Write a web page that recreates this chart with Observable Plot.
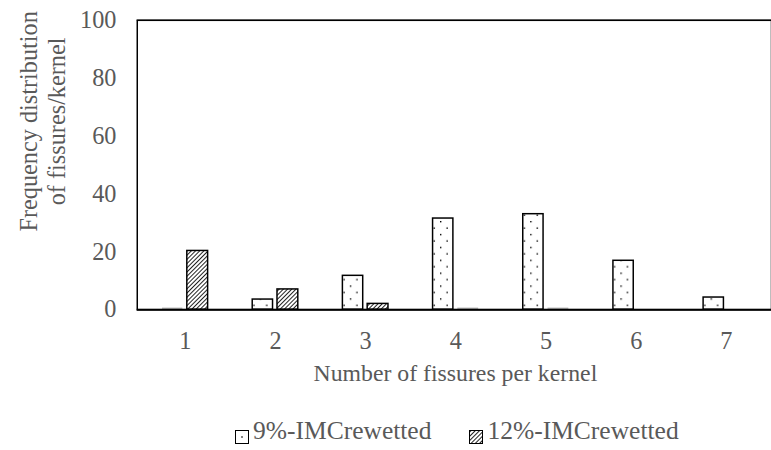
<!DOCTYPE html>
<html>
<head>
<meta charset="utf-8">
<script src="https://cdn.jsdelivr.net/npm/d3@7"></script>
<script src="https://cdn.jsdelivr.net/npm/@observablehq/plot@0.6"></script>
<style>
  html, body { margin: 0; padding: 0; background: #fff; overflow: hidden; }
  #wrap { position: relative; width: 771px; height: 450px; overflow: hidden; }
  #chart svg { display: block; }
  #legend {
    position: absolute; left: 235px; top: 418px;
    display: flex; align-items: flex-start;
    font-family: "Liberation Serif", "Times New Roman", serif;
    font-size: 25.5px; line-height: 26px; color: #595959; white-space: nowrap;
  }
  .sw { width: 12px; height: 12px; border: 1px solid #000; margin-top: 12px; margin-right: 4px; box-sizing: content-box; }
  .sw svg { display: block; }
</style>
</head>
<body>
<svg width="0" height="0" style="position:absolute">
  <defs>
    <pattern id="dots" patternUnits="userSpaceOnUse" width="13" height="13">
      <rect width="13" height="13" fill="#fff"/>
      <rect x="2" y="2" width="1.4" height="1.4" fill="#000"/>
      <rect x="8.5" y="8.5" width="1.4" height="1.4" fill="#000"/>
    </pattern>
    <pattern id="hatch" patternUnits="userSpaceOnUse" width="3" height="3" patternTransform="rotate(45)">
      <rect width="3" height="3" fill="#fff"/>
      <line x1="0.5" y1="0" x2="0.5" y2="3" stroke="#222" stroke-width="1"/>
    </pattern>
  </defs>
</svg>
<div id="wrap">
  <div id="chart"></div>
  <div id="legend">
    <div class="sw"><svg width="12" height="12"><rect width="12" height="12" fill="#fff"/><rect x="5.3" y="5.3" width="1.4" height="1.4" fill="#000"/></svg></div>
    <span id="lg1"></span>
    <div class="sw" style="margin-left:38px"><svg width="12" height="12"><rect width="12" height="12" fill="url(#hatch)"/></svg></div>
    <span id="lg2"></span>
  </div>
</div>
<script>
// ---- data ----
const categories = ["1", "2", "3", "4", "5", "6", "7"];
const seriesNames = ["9%-IMCrewetted", "12%-IMCrewetted"];
const nineValues = [0, 3.5, 11.7, 31.5, 33, 16.9, 4.2];
const twelveValues = [20.3, 7, 2, 0, 0, null, null];
const yTicks = [0, 20, 40, 60, 80, 100];
const xTitle = "Number of fissures per kernel";
const yTitle = "Frequency distribution\nof fissures/kernel";

document.getElementById("lg1").textContent = seriesNames[0];
document.getElementById("lg2").textContent = seriesNames[1];

const nineRows = categories.map((c, i) => ({cat: c, value: nineValues[i]}));
const twelveRows = categories.map((c, i) => ({cat: c, value: twelveValues[i]}));
const pos = rows => rows.filter(d => d.value != null && d.value > 0);
const zero = rows => rows.filter(d => d.value === 0);

const font = "'Liberation Serif', 'Times New Roman', serif";
const gray = "#595959";

const plot = Plot.plot({
  width: 778,
  height: 400,
  marginLeft: 140,
  marginRight: 0,
  marginTop: 20,
  marginBottom: 88,
  style: {fontFamily: font, fontSize: "24.5px", color: gray, background: "transparent", overflow: "visible"},
  x: {domain: categories, padding: 0, tickSize: 0, tickPadding: 22, label: null},
  y: {domain: [0, 100], ticks: yTicks, tickSize: 0, tickPadding: 23, label: null},
  marks: [
    Plot.barY(pos(nineRows), {x: "cat", y: "value", fill: "url(#dots)", stroke: "#000", strokeWidth: 1.5, insetLeft: 22.5, insetRight: 48}),
    Plot.barY(pos(twelveRows), {x: "cat", y: "value", fill: "url(#hatch)", stroke: "#000", strokeWidth: 1.5, insetLeft: 47.5, insetRight: 22.5}),
    Plot.tickY(zero(nineRows), {x: "cat", y: "value", stroke: "#9a9a9a", strokeWidth: 1, insetLeft: 22.5, insetRight: 48, dy: -1.5}),
    Plot.tickY(zero(twelveRows), {x: "cat", y: "value", stroke: "#9a9a9a", strokeWidth: 1, insetLeft: 47.5, insetRight: 22.5, dy: -1.5}),
    Plot.ruleY([100], {stroke: "#444", strokeWidth: 1.5, insetLeft: -2}),
    Plot.frame({stroke: "#000", strokeWidth: 1.5, insetLeft: -2, fill: "none"}),
    Plot.ruleY([0], {stroke: "#000", strokeWidth: 2, insetLeft: -2}),
    Plot.text([xTitle], {text: d => d, frameAnchor: "bottom", lineAnchor: "top", dy: 55, fill: gray, fontSize: 24}),
    Plot.text([yTitle], {text: d => d, frameAnchor: "left", rotate: -90, lineAnchor: "top", textAnchor: "middle", lineHeight: 1.17, dx: -124, dy: -44, fill: gray, fontSize: 24.5})
  ]
});
document.getElementById("chart").appendChild(plot);
</script>
</body>
</html>
